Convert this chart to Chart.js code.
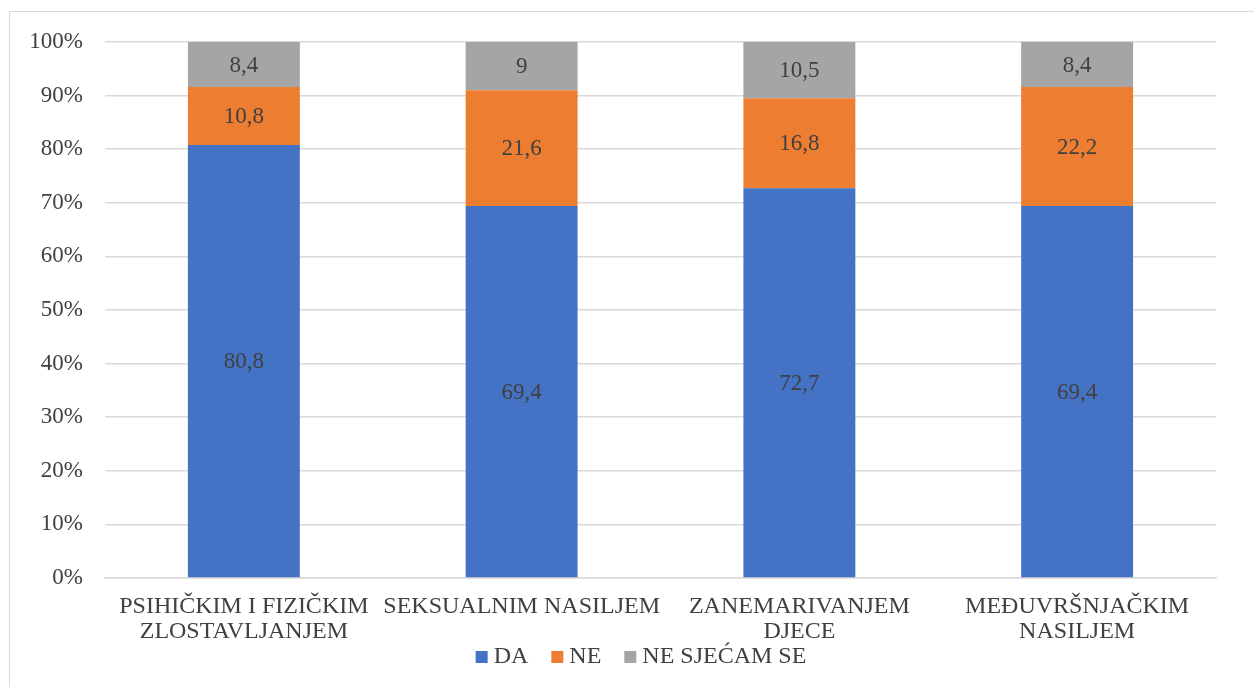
<!DOCTYPE html>
<html>
<head>
<meta charset="utf-8">
<script src="https://cdn.jsdelivr.net/npm/chart.js@4.4.1/dist/chart.umd.min.js"></script>
<style>
  body { margin: 0; background: #fff; }
  #frame { position: absolute; left: 9px; top: 11px; width: 1260px; height: 690px; border: 1px solid #d9d9d9; }
  #wrap { position: absolute; left: 0; top: 0; width: 1254px; height: 687px; }
</style>
</head>
<body>
<div id="frame"></div>
<div id="wrap"><canvas id="chart"></canvas></div>
<script>
// ========================= DATA =========================
const categories = [
    ["PSIHIČKIM I FIZIČKIM", "ZLOSTAVLJANJEM"],
    "SEKSUALNIM NASILJEM",
    ["ZANEMARIVANJEM", "DJECE"],
    ["MEĐUVRŠNJAČKIM", "NASILJEM"]
];
const daValues = [80.8, 69.4, 72.7, 69.4];
const neValues = [10.8, 21.6, 16.8, 22.2];
const neSjecamValues = [8.4, 9, 10.5, 8.4];
const yTicks = [0, 10, 20, 30, 40, 50, 60, 70, 80, 90, 100];

const TEXT_COLOR = "#404040";
const FONT = "'Liberation Serif', 'Times New Roman', serif";

// draws the value in the middle of every bar segment (decimal comma)
const valueLabels = {
    id: 'valueLabels',
    afterDatasetsDraw(chart){
        const ctx = chart.ctx;
        ctx.save();
        ctx.font = "23px " + FONT;
        ctx.fillStyle = TEXT_COLOR;
        ctx.textAlign = "center";
        ctx.textBaseline = "middle";
        chart.data.datasets.forEach((ds, i) => {
            chart.getDatasetMeta(i).data.forEach((bar, j) => {
                const mid = (bar.y + bar.base) / 2;
                ctx.fillText(String(ds.data[j]).replace('.', ','), bar.x, mid + 1);
            });
        });
        ctx.restore();
    }
};

// Excel style legend under the axis labels (small squares, tight gaps)
const bottomLegend = {
    id: 'bottomLegend',
    afterDraw(chart){
        const ctx = chart.ctx;
        const BOX = 12, TEXT_OFFSET = 18, GAP_ITEM = 23, CENTER_X = 641, CENTER_Y = 657;
        ctx.save();
        ctx.font = "24px " + FONT;
        ctx.textBaseline = "middle";
        const items = chart.data.datasets.map(ds => ({
            text: ds.label,
            color: ds.backgroundColor,
            w: TEXT_OFFSET + ctx.measureText(ds.label).width
        }));
        const total = items.reduce((s, it) => s + it.w, 0) + GAP_ITEM * (items.length - 1);
        let x = CENTER_X - total / 2;
        items.forEach(it => {
            ctx.fillStyle = it.color;
            ctx.fillRect(x, CENTER_Y - BOX / 2, BOX, BOX);
            ctx.fillStyle = TEXT_COLOR;
            ctx.fillText(it.text, x + TEXT_OFFSET, CENTER_Y);
            x += it.w + GAP_ITEM;
        });
        ctx.restore();
    }
};

const data = {
    labels: categories,
    datasets: [
        { label: 'DA', data: daValues, backgroundColor: '#4472c4' },
        { label: 'NE', data: neValues, backgroundColor: '#ed7d31' },
        { label: 'NE SJEĆAM SE', data: neSjecamValues, backgroundColor: '#a5a5a5' }
    ]
};

const chartOptions = {
    responsive: true,
    maintainAspectRatio: false,
    animation: false,
    layout: { padding: { left: 10, right: 38, top: 42, bottom: 29 } },
    datasets: { bar: { categoryPercentage: 1, barPercentage: 0.403 } },
    scales: {
        x: {
            stacked: true,
            grid: { display: false },
            border: { color: '#d9d9d9', width: 1.5 },
            ticks: { color: TEXT_COLOR, font: { family: FONT, size: 24, lineHeight: 1.05 }, maxRotation: 0, autoSkip: false, padding: 8 },
            afterFit: (s) => { s.height = 80; }
        },
        y: {
            stacked: true,
            min: 0,
            max: 100,
            afterBuildTicks: (s) => { s.ticks = yTicks.map(v => ({ value: v })); },
            grid: { color: '#d9d9d9', lineWidth: 1.5, drawTicks: false },
            border: { display: false },
            ticks: {
                color: TEXT_COLOR,
                font: { family: FONT, size: 23 },
                padding: 22,
                callback: (v) => v + '%'
            },
            afterFit: (s) => { s.width = 95; }
        }
    },
    plugins: {
        legend: { display: false },
        tooltip: { enabled: false }
    }
};

new Chart(document.querySelector('#chart').getContext('2d'), {
    type: 'bar',
    data: data,
    options: chartOptions,
    plugins: [valueLabels, bottomLegend]
});
</script>
</body>
</html>
